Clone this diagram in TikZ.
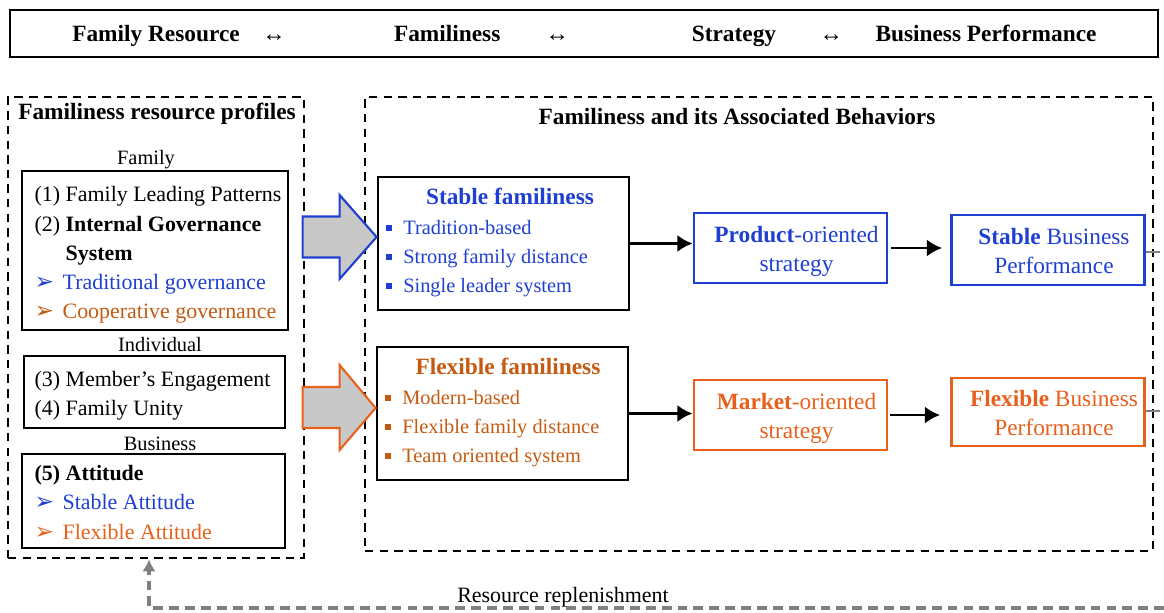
\documentclass[tikz,border=0pt]{standalone}
\usepackage{fontspec}
\setmainfont{Liberation Serif}
\newfontfamily\symfont{DejaVu Sans}
\usepackage{xcolor}
\definecolor{fblue}{HTML}{1F3FD2}
\definecolor{forange}{HTML}{E8601C}
\definecolor{fbrown}{HTML}{C55A11}
\definecolor{loopgray}{HTML}{808080}
\definecolor{shaftgray}{HTML}{C8C8C8}
\usepackage{tikz}
\usetikzlibrary{arrows.meta,positioning,calc}

\newcommand{\famhead}{\fontsize{16.6}{20.6}\selectfont\bfseries}
\newcommand{\fambody}{\fontsize{15.6}{20.8}\selectfont}
\newcommand{\famitem}{\fontsize{14.5}{20.6}\selectfont}
\newcommand{\famtag}{\fontsize{14.5}{17}\selectfont}
\newcommand{\famstrat}{\fontsize{16.6}{20.6}\selectfont}
% list markers
\newcommand{\arrowbul}[1]{\makebox[0.7cm][l]{\textcolor{#1}{\symfont\fontsize{16.5}{16.5}\selectfont ➢}}}
\newcommand{\sqbul}{\makebox[0.425cm][l]{\rule[0.2em]{0.15cm}{0.15cm}}}
% two centred lines, set a little low and right in their box
\newcommand{\twolines}[2]{\hspace*{0.3cm}\raisebox{-0.08cm}[\height][\depth]{\begin{tabular}{@{}c@{}}#1\\#2\end{tabular}}}

\begin{document}
\begin{tikzpicture}[x=1cm,y=1cm,
    every node/.style={inner sep=0pt},
    dashbox/.style={draw,line width=2pt,dash pattern=on 6pt off 4.4pt},
    listbox/.style={draw,line width=0.9pt},
    listtext/.style={anchor=west,font=\fambody},
    famsbox/.style={draw,line width=2pt,minimum width=6.275cm,minimum height=3.325cm},
    stratbox/.style={draw,line width=2pt,minimum width=4.825cm,minimum height=1.75cm,font=\famstrat},
    blockarr/.style={line width=1.5pt,fill=shaftgray,line join=miter},
    flow/.style={-{Latex[length=0.38cm,width=0.43cm]},line width=2.1pt},
    stub/.style={loopgray,line width=1.3pt}]
  \useasboundingbox (0,0) rectangle (29.1,-15.3);

  % banner
  \node[draw,line width=0.9pt,minimum width=28.7cm,minimum height=1.175cm] (banner) at (14.6,-0.8375) {};
  \node[font=\famhead,anchor=base] (bRes) at (3.9,-1.04) {Family Resource};
  \node[font=\famhead,anchor=base] (bArr1) at (6.85,-1.04) {↔};
  \node[font=\famhead,anchor=base] (bFam) at (11.18,-1.04) {Familiness};
  \node[font=\famhead,anchor=base] (bArr2) at (13.93,-1.04) {↔};
  \node[font=\famhead,anchor=base] (bStr) at (18.35,-1.04) {Strategy};
  \node[font=\famhead,anchor=base] (bArr3) at (20.78,-1.04) {↔};
  \node[font=\famhead,anchor=base] (bPerf) at (24.65,-1.04) {Business Performance};

  % resource profiles
  \node[dashbox,minimum width=7.4cm,minimum height=11.525cm] (profiles) at (3.9,-8.1875) {};
  \node[font=\famhead,anchor=base] (profTitle) at (3.925,-2.99) {Familiness resource profiles};

  \node[font=\famtag,anchor=base] (tagFam) at (3.65,-4.12) {Family};
  \node[listbox,minimum width=6.65cm,minimum height=3.975cm] (famBox) at (3.875,-6.2625) {};
  \node[listtext] (famList) at ([xshift=0.325cm,yshift=-0.1cm]famBox.west)
    {\begin{tabular}{@{}l@{}}
     (1) Family Leading Patterns\\
     (2) \textbf{Internal Governance}\\
     \phantom{(2) }\textbf{System}\\
     \arrowbul{fblue}\textcolor{fblue}{Traditional governance}\\
     \arrowbul{fbrown}\textcolor{fbrown}{Cooperative governance}
     \end{tabular}};

  \node[font=\famtag,anchor=base] (tagInd) at (4.0,-8.79) {Individual};
  \node[listbox,minimum width=6.525cm,minimum height=1.8cm] (indBox) at (3.8625,-9.8) {};
  \node[listtext] (indList) at ([xshift=0.275cm,yshift=-0.07cm]indBox.west)
    {\begin{tabular}{@{}l@{}}
     (3) Member’s Engagement\\(4) Family Unity
     \end{tabular}};

  \node[font=\famtag,anchor=base] (tagBus) at (4.0,-11.27) {Business};
  \node[listbox,minimum width=6.575cm,minimum height=2.35cm] (busBox) at (3.8375,-12.525) {};
  \node[listtext] (busList) at ([xshift=0.325cm,yshift=-0.075cm]busBox.west)
    {\begin{tabular}{@{}l@{}}
     \textbf{(5) Attitude}\\
     \arrowbul{fblue}\textcolor{fblue}{Stable Attitude}\\
     \arrowbul{forange}\textcolor{forange}{Flexible Attitude}
     \end{tabular}};

  % familiness and behaviours
  \node[dashbox,minimum width=19.7cm,minimum height=11.35cm] (behav) at (18.975,-8.1) {};
  \node[font=\famhead,anchor=base] (behavTitle) at (18.425,-3.12) {Familiness and its Associated Behaviors};

  \node[famsbox] (stableBox) at (12.5875,-6.0875) {};
  \node[font=\famhead,fblue,anchor=base] (stableTitle) at (12.75,-5.12) {Stable familiness};
  \node[anchor=west,font=\famitem,fblue] (stableList) at (9.65,-6.45)
    {\begin{tabular}{@{}l@{}}
     \sqbul Tradition-based\\\sqbul Strong family distance\\\sqbul Single leader system
     \end{tabular}};

  \node[famsbox] (flexBox) at (12.5625,-10.3375) {};
  \node[font=\famhead,fbrown,anchor=base] (flexTitle) at (12.7,-9.37) {Flexible familiness};
  \node[anchor=west,font=\famitem,fbrown] (flexList) at (9.625,-10.7)
    {\begin{tabular}{@{}l@{}}
     \sqbul Modern-based\\\sqbul Flexible family distance\\\sqbul Team oriented system
     \end{tabular}};

  % block arrows into the familiness boxes
  \draw[blockarr,draw=fblue] ($(stableBox.west)+(0,0.1625)$) -- ++(-0.925,1.05) -- ++(0,-0.5375)
    -- ++(-0.925,0) -- ++(0,-1.025) -- ++(0.925,0) -- ++(0,-0.5375) -- cycle;
  \draw[blockarr,draw=forange] ($(flexBox.west)+(0,0.1375)$) -- ++(-0.9,1.075) -- ++(0,-0.55)
    -- ++(-0.925,0) -- ++(0,-1.025) -- ++(0.925,0) -- ++(0,-0.55) -- cycle;

  % strategy and performance
  \node[stratbox,draw=fblue,text=fblue] (prodBox) at (19.7625,-6.2)
    {\twolines{\textbf{Product}-oriented}{strategy}};
  \node[stratbox,draw=fblue,text=fblue] (stabPerf) at (26.2,-6.25)
    {\twolines{\textbf{Stable} Business}{Performance}};
  \node[stratbox,draw=forange,text=forange] (mktBox) at (19.7625,-10.375)
    {\twolines{\textbf{Market}-oriented}{strategy}};
  \node[stratbox,draw=forange,text=forange,minimum height=1.7cm] (flexPerf) at (26.2,-10.3)
    {\twolines{\textbf{Flexible} Business}{Performance}};

  \draw[flow] (stableBox.east) -- (stableBox.east -| prodBox.west);
  \draw[flow,shorten <=0.075cm,shorten >=0.2cm] (prodBox.east) -- (prodBox.east -| stabPerf.west);
  \draw[flow] (flexBox.east) -- (flexBox.east -| mktBox.west);
  \draw[flow,shorten <=0.05cm,shorten >=0.25cm] (mktBox.east) -- (mktBox.east -| flexPerf.west);

  % feedback loop
  \coordinate (outS) at (29.0,-6.3);
  \coordinate (outF) at (29.0,-10.275);
  \draw[stub] (stabPerf.east |- outS) -- (outS);
  \draw[stub] (flexPerf.east |- outF) -- (outF);
  \coordinate (loopR) at (29.1,-15.2);
  \coordinate (loopL) at (3.725,-15.2);
  \draw[loopgray,line width=2.4pt,dash pattern=on 7pt off 4.3pt,-{Latex[length=0.3cm,width=0.34cm]}]
    (loopR) -- (loopL) -- (loopL |- profiles.south);
  \node[font=\fambody,anchor=base] (replLbl) at (14.075,-15.06) {Resource replenishment};
\end{tikzpicture}
\end{document}
